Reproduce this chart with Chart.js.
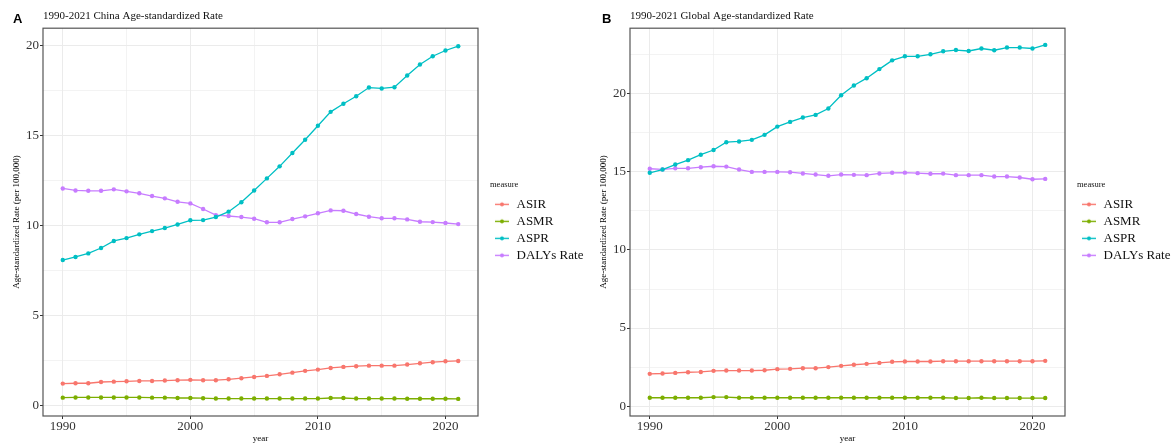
<!DOCTYPE html>
<html>
<head>
<meta charset="utf-8">
<script src="https://cdn.jsdelivr.net/npm/chart.js@4"></script>
<style>
  html, body { margin: 0; padding: 0; background: #fff; overflow: hidden; }
  #wrap { position: relative; width: 1172px; height: 444px; overflow: hidden; }
  canvas { position: absolute; top: 0; }
  .tag { position: absolute; top: 12px; font: bold 13px "Liberation Sans", Arial, sans-serif; line-height: 13px; color: #000; }
</style>
</head>
<body>
<div id="wrap">
  <canvas id="chinaChart" width="588" height="444" style="left:0"></canvas>
  <canvas id="globalChart" width="588" height="444" style="left:587px"></canvas>
  <div class="tag" style="left:13px">A</div>
  <div class="tag" style="left:602px">B</div>
</div>
<script>
var years = [1990, 1991, 1992, 1993, 1994, 1995, 1996, 1997, 1998, 1999, 2000, 2001, 2002, 2003, 2004, 2005,
             2006, 2007, 2008, 2009, 2010, 2011, 2012, 2013, 2014, 2015, 2016, 2017, 2018, 2019, 2020, 2021];
var measures = ['ASIR', 'ASMR', 'ASPR', 'DALYs Rate'];
var colors = ['#F8766D', '#7CAE00', '#00BFC4', '#C77CFF'];
var xTickLabels = [1990, 2000, 2010, 2020];
var yTickLabels = [0, 5, 10, 15, 20];

// China
var chinaASIR = [1.22, 1.24, 1.24, 1.31, 1.33, 1.35, 1.37, 1.37, 1.39, 1.41, 1.43, 1.41, 1.41, 1.46, 1.52, 1.59,
                 1.65, 1.74, 1.83, 1.93, 2.00, 2.09, 2.15, 2.19, 2.22, 2.22, 2.22, 2.28, 2.35, 2.41, 2.46, 2.48];
var chinaASMR = [0.44, 0.45, 0.45, 0.45, 0.45, 0.45, 0.45, 0.44, 0.44, 0.42, 0.42, 0.41, 0.39, 0.39, 0.39, 0.39,
                 0.39, 0.39, 0.39, 0.39, 0.39, 0.42, 0.42, 0.39, 0.39, 0.39, 0.39, 0.38, 0.38, 0.38, 0.38, 0.37];
var chinaASPR = [8.09, 8.26, 8.46, 8.76, 9.15, 9.31, 9.52, 9.70, 9.87, 10.07, 10.30, 10.31, 10.48, 10.78, 11.30, 11.96,
                 12.63, 13.30, 14.04, 14.78, 15.56, 16.33, 16.78, 17.20, 17.68, 17.63, 17.70, 18.35, 18.96, 19.42, 19.74, 19.98];
var chinaDALYs = [12.07, 11.96, 11.94, 11.94, 12.02, 11.91, 11.80, 11.65, 11.52, 11.33, 11.24, 10.93, 10.59, 10.54, 10.48, 10.39,
                  10.19, 10.19, 10.37, 10.52, 10.69, 10.85, 10.83, 10.65, 10.50, 10.41, 10.41, 10.35, 10.22, 10.20, 10.15, 10.09];

// Global
var globalASIR = [2.07, 2.09, 2.13, 2.17, 2.19, 2.26, 2.28, 2.28, 2.28, 2.30, 2.37, 2.39, 2.43, 2.43, 2.50, 2.58,
                  2.65, 2.71, 2.77, 2.84, 2.86, 2.86, 2.86, 2.88, 2.88, 2.88, 2.88, 2.88, 2.88, 2.88, 2.88, 2.90];
var globalASMR = [0.54, 0.54, 0.54, 0.54, 0.54, 0.58, 0.58, 0.54, 0.54, 0.54, 0.54, 0.54, 0.54, 0.54, 0.54, 0.54,
                  0.54, 0.54, 0.54, 0.54, 0.54, 0.54, 0.54, 0.54, 0.52, 0.52, 0.54, 0.52, 0.52, 0.52, 0.52, 0.52];
var globalASPR = [14.94, 15.15, 15.47, 15.75, 16.10, 16.40, 16.90, 16.95, 17.05, 17.37, 17.90, 18.20, 18.48, 18.65, 19.06, 19.91,
                  20.53, 21.00, 21.58, 22.14, 22.40, 22.40, 22.53, 22.72, 22.80, 22.74, 22.90, 22.79, 22.96, 22.96, 22.90, 23.13];
var globalDALYs = [15.20, 15.16, 15.23, 15.23, 15.30, 15.36, 15.34, 15.15, 15.00, 15.00, 15.00, 14.98, 14.90, 14.83, 14.75, 14.83,
                   14.81, 14.79, 14.90, 14.94, 14.95, 14.92, 14.88, 14.89, 14.79, 14.79, 14.79, 14.70, 14.70, 14.64, 14.53, 14.55];

var SERIF = '"Liberation Serif", "Times New Roman", serif';

// little line+dot swatches for the legend, like ggplot's key glyphs
function makeKey(color) {
    var c = document.createElement('canvas');
    c.width = 14;
    c.height = 7;
    var g = c.getContext('2d');
    g.strokeStyle = color;
    g.lineWidth = 1.4;
    g.beginPath();
    g.moveTo(0, 3.5);
    g.lineTo(14, 3.5);
    g.stroke();
    g.fillStyle = color;
    g.beginPath();
    g.arc(7, 3.5, 2, 0, Math.PI * 2);
    g.fill();
    return c;
}
var keys = colors.map(makeKey);

var framePlugin = {
    id: 'frame',
    afterDraw: function (chart) {
        var a = chart.chartArea, ctx = chart.ctx;
        ctx.save();
        ctx.strokeStyle = '#555';
        ctx.lineWidth = 1.2;
        ctx.strokeRect(a.left, a.top, a.right - a.left, a.bottom - a.top);
        ctx.restore();
    }
};

function makeChart(id, title, series, yMin, yMax) {
    var datasets = series.map(function (vals, i) {
        return {
            label: measures[i],
            data: years.map(function (yr, j) { return {x: yr, y: vals[j]}; }),
            borderColor: colors[i],
            backgroundColor: colors[i],
            borderWidth: 1.3,
            pointRadius: 2.2,
            pointBorderWidth: 0,
            pointBackgroundColor: colors[i],
            tension: 0
        };
    });

    return new Chart(document.getElementById(id).getContext('2d'), {
        type: 'line',
        data: {datasets: datasets},
        plugins: [framePlugin],
        options: {
            responsive: false,
            animation: false,
            layout: {padding: 0},
            scales: {
                x: {
                    type: 'linear',
                    min: 1988.45,
                    max: 2022.55,
                    afterFit: function (s) { s.height = 28; },
                    ticks: {
                        stepSize: 5,
                        includeBounds: false,
                        padding: 0,
                        color: '#333',
                        font: {family: SERIF, size: 13},
                        maxRotation: 0,
                        callback: function (v) { return xTickLabels.indexOf(v) >= 0 ? String(v) : ''; }
                    },
                    grid: {
                        color: '#EBEBEB',
                        lineWidth: function (c) { return c.tick && c.tick.value % 10 === 0 ? 1 : 0.6; },
                        tickLength: 3,
                        tickColor: function (c) { return c.tick && c.tick.value % 10 === 0 ? '#333' : 'rgba(0,0,0,0)'; }
                    },
                    border: {display: false},
                    title: {
                        display: true,
                        text: 'year',
                        color: '#000',
                        font: {family: SERIF, size: 9},
                        padding: {top: 0, bottom: 0}
                    }
                },
                y: {
                    min: yMin,
                    max: yMax,
                    afterFit: function (s) { s.width = 43; },
                    ticks: {
                        stepSize: 2.5,
                        includeBounds: false,
                        padding: 1,
                        color: '#333',
                        font: {family: SERIF, size: 13},
                        callback: function (v) { return yTickLabels.indexOf(v) >= 0 ? String(v) : ''; }
                    },
                    grid: {
                        color: '#EBEBEB',
                        lineWidth: function (c) { return c.tick && c.tick.value % 5 === 0 ? 1 : 0.6; },
                        tickLength: 3,
                        tickColor: function (c) { return c.tick && c.tick.value % 5 === 0 ? '#333' : 'rgba(0,0,0,0)'; }
                    },
                    border: {display: false},
                    title: {
                        display: true,
                        text: 'Age-standardized Rate (per 100,000)',
                        color: '#000',
                        font: {family: SERIF, size: 9},
                        padding: {top: 11, bottom: 0}
                    }
                },
                gap: {
                    type: 'linear',
                    position: 'right',
                    display: true,
                    afterFit: function (s) { s.width = 12; },
                    ticks: {display: false},
                    grid: {display: false},
                    border: {display: false}
                }
            },
            plugins: {
                title: {
                    display: true,
                    text: title,
                    align: 'start',
                    fullSize: false,
                    color: '#111',
                    font: {family: SERIF, size: 11, weight: 'normal'},
                    padding: {top: 10, bottom: 5}
                },
                legend: {
                    position: 'right',
                    align: 'center',
                    title: {
                        display: true,
                        text: 'measure',
                        position: 'start',
                        color: '#111',
                        font: {family: SERIF, size: 8.5},
                        padding: {top: 2.5, bottom: 3}
                    },
                    labels: {
                        usePointStyle: true,
                        pointStyleWidth: 16,
                        padding: 4,
                        color: '#111',
                        font: {family: SERIF, size: 13},
                        generateLabels: function (chart) {
                            var items = Chart.defaults.plugins.legend.labels.generateLabels(chart);
                            items.forEach(function (it, i) { it.pointStyle = keys[i]; });
                            return items;
                        }
                    }
                },
                tooltip: {enabled: false}
            }
        }
    });
}

makeChart('chinaChart', '1990-2021 China Age-standardized Rate',
    [chinaASIR, chinaASMR, chinaASPR, chinaDALYs], -0.58, 20.98);
makeChart('globalChart', '1990-2021 Global Age-standardized Rate',
    [globalASIR, globalASMR, globalASPR, globalDALYs], -0.63, 24.2);
</script>
</body>
</html>
